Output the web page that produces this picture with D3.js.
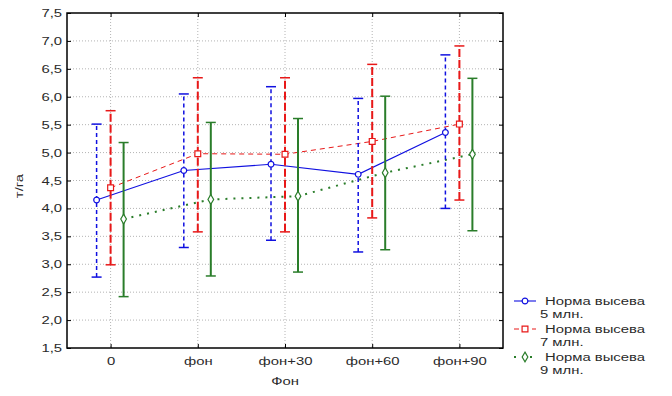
<!DOCTYPE html>
<html>
<head>
<meta charset="utf-8">
<script src="https://cdn.jsdelivr.net/npm/d3@7"></script>
<style>
  html, body { margin: 0; padding: 0; background: #fff; }
  text { font-family: "Liberation Sans", Arial, sans-serif; font-size: 11px; fill: #2a2a2a; }
</style>
</head>
<body>
<svg id="chart" width="672" height="396"></svg>
<script>
const categories = ['0', 'фон', 'фон+30', 'фон+60', 'фон+90'];
const yTicks = [1.5, 2.0, 2.5, 3.0, 3.5, 4.0, 4.5, 5.0, 5.5, 6.0, 6.5, 7.0, 7.5];
const xTitle = 'Фон';
const yTitle = 'т/га';

const legend5 = ['Норма высева', '5 млн.'];
const mean5 = [4.15, 4.68, 4.79, 4.61, 5.36];
const low5 = [2.77, 3.30, 3.43, 3.22, 4.00];
const high5 = [5.51, 6.05, 6.18, 5.97, 6.75];

const legend7 = ['Норма высева', '7 млн.'];
const mean7 = [4.37, 4.98, 4.97, 5.20, 5.51];
const low7 = [2.99, 3.58, 3.58, 3.83, 4.15];
const high7 = [5.75, 6.34, 6.34, 6.58, 6.91];

const legend9 = ['Норма высева', '9 млн.'];
const mean9 = [3.81, 4.16, 4.22, 4.64, 4.97];
const low9 = [2.42, 2.79, 2.86, 3.26, 3.60];
const high9 = [5.18, 5.54, 5.61, 6.01, 6.33];

const svg = d3.select('#chart');
const STRETCH = 'scale(1.35,1)';
const pLeft = 67, pRight = 503, pTop = 13, pBottom = 348;

const x = d3.scalePoint().domain(categories).range([pLeft, pRight]).padding(0.5);
const y = d3.scaleLinear().domain([1.5, 7.5]).range([pBottom, pTop]);
const fmt = v => d3.format('.1f')(v).replace('.', ',');

// grid
const grid = svg.append('g').attr('class', 'grid')
    .attr('stroke', '#b4b4b4').attr('stroke-dasharray', '1,2');
yTicks.slice(1, -1).forEach(v => {
    grid.append('line').attr('x1', pLeft).attr('x2', pRight).attr('y1', y(v)).attr('y2', y(v));
});
categories.forEach(c => {
    grid.append('line').attr('x1', x(c)).attr('x2', x(c)).attr('y1', pTop).attr('y2', pBottom);
});

// axes
const yAxis = svg.append('g').attr('transform', `translate(${pLeft},0)`)
    .call(d3.axisLeft(y).tickValues(yTicks).tickFormat(fmt).tickSizeInner(-4).tickSizeOuter(0));
yAxis.selectAll('text').attr('x', 0).attr('transform', 'translate(-5,0) ' + STRETCH);
svg.append('g').attr('transform', `translate(${pRight},0)`)
    .call(d3.axisRight(y).tickValues(yTicks).tickFormat('').tickSizeInner(-4).tickSizeOuter(0));
const xAxis = svg.append('g').attr('transform', `translate(0,${pBottom})`)
    .call(d3.axisBottom(x).tickSizeInner(-4).tickSizeOuter(0));
xAxis.selectAll('text').attr('y', 0).attr('dy', '0.32em').attr('transform', 'translate(0,13) ' + STRETCH);
svg.append('g').attr('transform', `translate(0,${pTop})`)
    .call(d3.axisTop(x).tickFormat('').tickSizeInner(-4).tickSizeOuter(0));
svg.selectAll('.domain').remove();
svg.selectAll('.tick line').attr('stroke', '#000');
svg.selectAll('.tick text').style('font-size', '11px').attr('fill', '#2a2a2a');

svg.append('rect').attr('x', pLeft).attr('y', pTop)
    .attr('width', pRight - pLeft).attr('height', pBottom - pTop)
    .attr('fill', 'none').attr('stroke', '#000').attr('stroke-width', 1.5);

svg.append('text').attr('text-anchor', 'middle')
    .attr('transform', `translate(${(pLeft + pRight) / 2},385) ${STRETCH}`).text(xTitle);
svg.append('text').attr('text-anchor', 'middle')
    .attr('transform', `translate(23,186) rotate(-90) ${STRETCH}`).text(yTitle);

// series
const series = [
    { mean: mean5, low: low5, high: high5, label: legend5, color: '#1010e0', offset: -14,
      line: { width: 1.1, dash: null }, bar: { width: 1.5, dash: '4,3' }, marker: 'circle' },
    { mean: mean7, low: low7, high: high7, label: legend7, color: '#e81818', offset: 0,
      line: { width: 1, dash: '5,4' }, bar: { width: 2, dash: '8,3' }, marker: 'square' },
    { mean: mean9, low: low9, high: high9, label: legend9, color: '#2a7d2a', offset: 13,
      line: { width: 2, dash: '2,6' }, bar: { width: 2, dash: null }, marker: 'diamond' }
];

const markerSym = {
    circle: d3.symbol(d3.symbolCircle, 26),
    square: d3.symbol(d3.symbolSquare, 34),
    diamond: d3.symbol(d3.symbolDiamond, 28)
};

const plot = svg.append('g');
series.forEach(s => {
    const cx = i => x(categories[i]) + s.offset;
    plot.append('path')
        .attr('d', d3.line().x((d, i) => cx(i)).y(d => y(d))(s.mean))
        .attr('fill', 'none').attr('stroke', s.color)
        .attr('stroke-width', s.line.width).attr('stroke-dasharray', s.line.dash);
});
series.forEach(s => {
    const cx = i => x(categories[i]) + s.offset;
    s.mean.forEach((m, i) => {
        plot.append('line').attr('x1', cx(i)).attr('x2', cx(i))
            .attr('y1', y(s.low[i])).attr('y2', y(s.high[i]))
            .attr('stroke', s.color).attr('stroke-width', s.bar.width)
            .attr('stroke-dasharray', s.bar.dash);
        [s.low[i], s.high[i]].forEach(v => {
            plot.append('line').attr('x1', cx(i) - 5).attr('x2', cx(i) + 5)
                .attr('y1', y(v)).attr('y2', y(v))
                .attr('stroke', s.color).attr('stroke-width', 1.5);
        });
    });
});
series.forEach(s => {
    const cx = i => x(categories[i]) + s.offset;
    plot.selectAll(null).data(s.mean).enter().append('path')
        .attr('d', markerSym[s.marker])
        .attr('transform', (d, i) => `translate(${cx(i)},${y(d)})`)
        .attr('fill', '#fff').attr('stroke', s.color).attr('stroke-width', 1.2);
});

// legend
const lg = svg.append('g').attr('transform', 'translate(514,301)');
series.forEach((s, k) => {
    const g = lg.append('g').attr('transform', `translate(0,${k * 28})`);
    g.append('line').attr('x1', 0).attr('x2', 22).attr('y1', 0).attr('y2', 0)
        .attr('stroke', s.color).attr('stroke-width', s.line.width)
        .attr('stroke-dasharray', s.line.dash);
    g.append('path').attr('d', markerSym[s.marker]).attr('transform', 'translate(11,0)')
        .attr('fill', '#fff').attr('stroke', s.color).attr('stroke-width', 1.2);
    g.append('text').attr('transform', `translate(31,4) ${STRETCH}`).text(s.label[0]);
    g.append('text').attr('transform', `translate(26,17) ${STRETCH}`).text(s.label[1]);
});
</script>
</body>
</html>
